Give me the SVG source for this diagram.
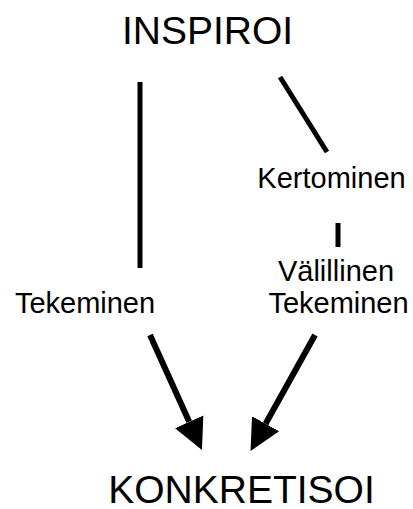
<svg xmlns="http://www.w3.org/2000/svg" width="413" height="509" viewBox="0 0 413 509">
  <style>
    .big { font-family: "Liberation Sans", Arial, sans-serif; font-size: 39px; fill: #000; text-anchor: middle; }
    .lbl { font-family: "Liberation Sans", Arial, sans-serif; font-size: 29px; fill: #000; text-anchor: middle; }
    .edge { stroke: #000; stroke-width: 5; fill: none; }
    .arrow { stroke: #000; stroke-width: 6; fill: none; marker-end: url(#head); }
  </style>
  <defs>
    <marker id="head" viewBox="0 0 10 10" refX="0" refY="5" markerWidth="31" markerHeight="35" markerUnits="userSpaceOnUse" orient="auto">
      <path d="M0,0 L10,5 L0,10 Z" fill="#000"/>
    </marker>
  </defs>
  <rect width="413" height="509" fill="#fff"/>

  <g id="inspiroi"><text class="big" x="207.5" y="44">INSPIROI</text></g>
  <g id="tekeminen"><text class="lbl" x="85" y="313">Tekeminen</text></g>
  <g id="kertominen"><text class="lbl" x="331.5" y="188">Kertominen</text></g>
  <g id="valillinen-tekeminen">
    <text class="lbl" x="336" y="281">Välillinen</text>
    <text class="lbl" x="338.5" y="313">Tekeminen</text>
  </g>
  <g id="konkretisoi"><text class="big" x="241.5" y="503">KONKRETISOI</text></g>

  <g id="connectors">
    <line class="edge" x1="140" y1="82" x2="140" y2="268"/>
    <line class="edge" x1="280" y1="77" x2="327" y2="152"/>
    <line class="edge" x1="338" y1="223" x2="338" y2="247"/>
    <line class="arrow" x1="150" y1="335" x2="189.2" y2="421.8"/>
    <line class="arrow" x1="315" y1="335" x2="265.6" y2="423.8"/>
  </g>
</svg>
